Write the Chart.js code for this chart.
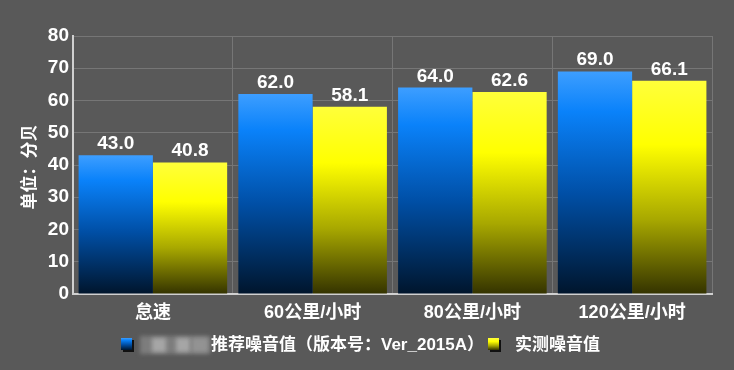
<!DOCTYPE html>
<html>
<head>
<meta charset="utf-8">
<script src="https://cdn.jsdelivr.net/npm/chart.js@4.4.0/dist/chart.umd.min.js"></script>
<style>
  html, body { margin: 0; padding: 0; background: #595959; }
  #wrap { width: 734px; height: 370px; }
</style>
</head>
<body>
<div id="wrap"><canvas id="noiseChart" width="734" height="370"></canvas></div>
<script>
// ====== DATA ======
const categories = ["怠速", "60公里/小时", "80公里/小时", "120公里/小时"];
const recommended = [43.0, 62.0, 64.0, 69.0];
const measured = [40.8, 58.1, 62.6, 66.1];
const seriesLabels = ["推荐噪音值（版本号：Ver_2015A）", "实测噪音值"];
const yTicks = [0, 10, 20, 30, 40, 50, 60, 70, 80];
const yTitle = "单位：分贝";

// ====== STYLE ======
const FONT = "'Liberation Sans', 'Noto Sans CJK SC', sans-serif";
const BLUE_STOPS = [[0, "#3d9eff"], [0.18, "#0a82fa"], [0.55, "#004fa6"], [1, "#00152c"]];
const YELLOW_STOPS = [[0, "#ffff3a"], [0.3, "#ffff00"], [0.65, "#a8a800"], [1, "#343300"]];

function barGradient(stops) {
  return (ctx) => {
    const chart = ctx.chart;
    if (!chart.chartArea || ctx.raw == null) return stops[1][1];
    const y = chart.scales.y;
    const top = y.getPixelForValue(ctx.raw);
    const bottom = y.getPixelForValue(0);
    const g = chart.ctx.createLinearGradient(0, top, 0, bottom);
    stops.forEach(s => g.addColorStop(s[0], s[1]));
    return g;
  };
}

// value labels above bars, y title and legend
const extras = {
  id: "extras",
  afterDatasetsDraw(chart) {
    const c = chart.ctx;
    c.save();
    c.fillStyle = "#ffffff";
    c.font = "bold 19px " + FONT;
    c.textAlign = "center";
    c.textBaseline = "alphabetic";
    chart.data.datasets.forEach((ds, i) => {
      chart.getDatasetMeta(i).data.forEach((bar, j) => {
        c.fillText(ds.data[j].toFixed(1), bar.x, bar.y - 6);
      });
    });
    c.restore();
  },
  afterDraw(chart) {
    const c = chart.ctx;
    c.save();
    // y title
    c.translate(30, 167);
    c.rotate(-Math.PI / 2);
    c.fillStyle = "#ffffff";
    c.font = "bold 17px " + FONT;
    c.textAlign = "center";
    c.textBaseline = "middle";
    c.fillText(yTitle, 0, 0);
    c.restore();

    // legend
    c.save();
    const ly = 345;
    function icon(x, stops) {
      c.fillStyle = "#111";
      c.fillRect(x + 2, ly - 5, 11, 12);
      const g = c.createLinearGradient(0, ly - 7, 0, ly + 5);
      stops.forEach(s => g.addColorStop(s[0], s[1]));
      c.fillStyle = g;
      c.fillRect(x, ly - 7, 11, 12);
    }
    icon(121, BLUE_STOPS);
    // blurred part of the first label
    c.filter = "blur(2px)";
    c.fillStyle = "#7d7d7d";
    c.fillRect(140, ly - 9, 70, 18);
    c.fillStyle = "#a6a6a6";
    c.fillRect(152, ly - 7, 14, 14);
    c.fillRect(176, ly - 7, 14, 14);
    c.fillStyle = "#939393";
    c.fillRect(192, ly - 7, 16, 14);
    c.filter = "none";
    c.fillStyle = "#ffffff";
    c.font = "bold 17px " + FONT;
    c.textAlign = "left";
    c.textBaseline = "middle";
    c.fillText(seriesLabels[0], 211, ly);
    icon(488, YELLOW_STOPS);
    c.fillStyle = "#ffffff";
    c.fillText(seriesLabels[1], 515, ly);
    c.restore();
  }
};

// ====== CHART ======
new Chart(document.getElementById("noiseChart"), {
  type: "bar",
  data: {
    labels: categories,
    datasets: [
      { label: seriesLabels[0], data: recommended, backgroundColor: barGradient(BLUE_STOPS),
        barPercentage: 1, categoryPercentage: 0.93, borderWidth: 0 },
      { label: seriesLabels[1], data: measured, backgroundColor: barGradient(YELLOW_STOPS),
        barPercentage: 1, categoryPercentage: 0.93, borderWidth: 0 }
    ]
  },
  options: {
    responsive: false,
    animation: false,
    layout: { padding: { top: 36, right: 22, left: 0, bottom: 0 } },
    plugins: { legend: { display: false }, tooltip: { enabled: false } },
    scales: {
      x: {
        afterFit: s => { s.height = 76; },
        grid: { color: "#767676", lineWidth: 1, offset: true, drawTicks: false },
        border: { color: "#d0d0d0", width: 2 },
        ticks: { color: "#ffffff", padding: 8, font: { family: FONT, size: 18, weight: "bold" } }
      },
      y: {
        min: 0, max: 80,
        afterFit: s => { s.width = 73; },
        afterBuildTicks: s => { s.ticks = yTicks.map(v => ({ value: v })); },
        grid: { color: "#767676", lineWidth: 1, drawTicks: false },
        border: { color: "#d0d0d0", width: 2 },
        ticks: { color: "#ffffff", padding: 4, font: { family: FONT, size: 19, weight: "bold" } }
      }
    }
  },
  plugins: [extras]
});
</script>
</body>
</html>
